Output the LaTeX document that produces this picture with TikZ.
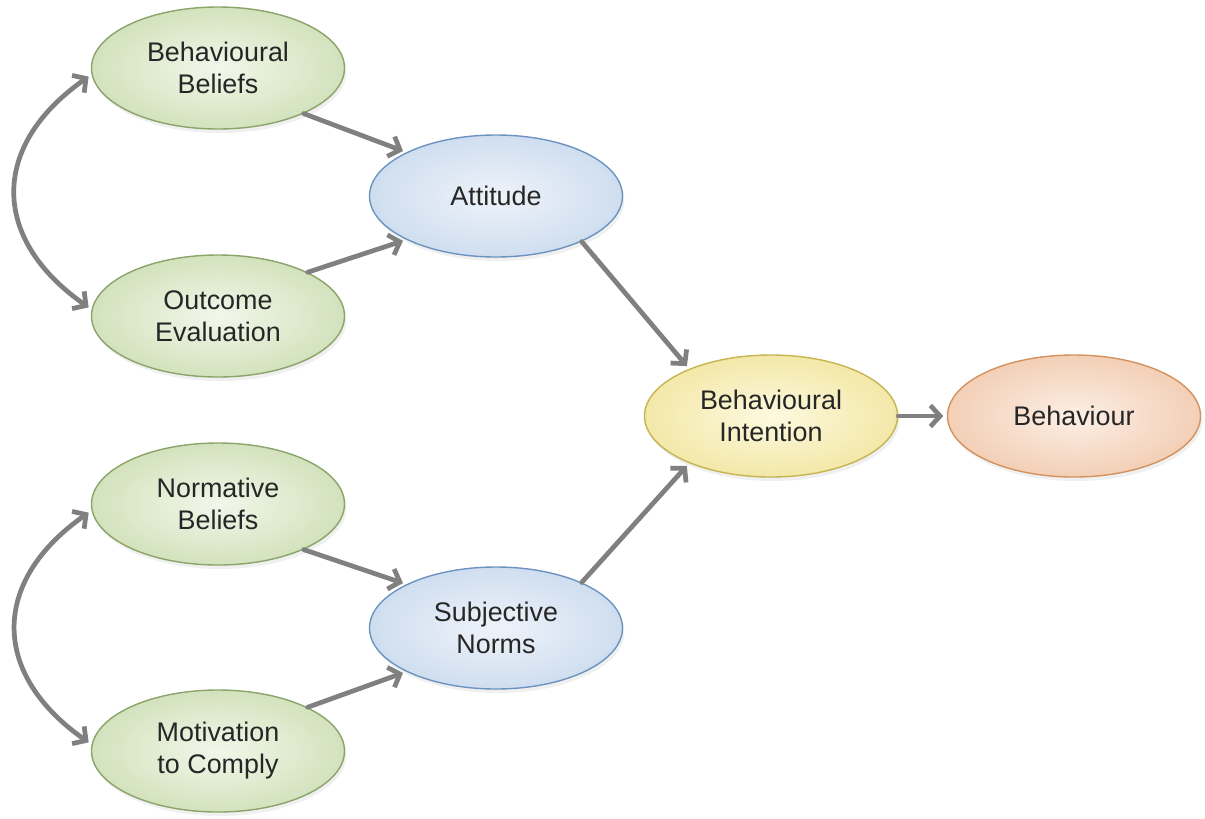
\documentclass[tikz,border=0pt]{standalone}
\usepackage{fontspec}
\setmainfont{Liberation Sans}
\usetikzlibrary{arrows.meta,shapes.geometric,shadows}
\definecolor{greenline}{HTML}{8BA46A}
\definecolor{greenin}{HTML}{F2F7EA}
\definecolor{greenout}{HTML}{D3E2BD}
\definecolor{blueline}{HTML}{6D94C0}
\definecolor{bluein}{HTML}{EEF3FA}
\definecolor{blueout}{HTML}{CFDEEF}
\definecolor{yellowline}{HTML}{C8B450}
\definecolor{yellowin}{HTML}{FDF9E0}
\definecolor{yellowout}{HTML}{F3E8A8}
\definecolor{orangeline}{HTML}{D4925F}
\definecolor{orangein}{HTML}{FCEFE6}
\definecolor{orangeout}{HTML}{F3CFB6}
\definecolor{linkgray}{HTML}{808080}
\begin{document}
\begin{tikzpicture}[line join=round, line cap=round, >={Straight Barb[length=5.5pt,width=12pt]},
		every node/.style={font=\fontsize{15.3}{18.2}\selectfont, align=center, text=black!85},
		oval/.style={ellipse, minimum width=5.06cm, minimum height=2.44cm, inner sep=0pt, line width=0.8pt,
			drop shadow={opacity=0.12, shadow xshift=0.4mm, shadow yshift=-0.8mm}},
		greenoval/.style={oval, draw=greenline, inner color=greenin, outer color=greenout},
		blueoval/.style={oval, draw=blueline, inner color=bluein, outer color=blueout},
		yellowoval/.style={oval, draw=yellowline, inner color=yellowin, outer color=yellowout},
		orangeoval/.style={oval, draw=orangeline, inner color=orangein, outer color=orangeout},
		link/.style={->, draw=linkgray, line width=2.7pt, shorten >=2pt}]
	\useasboundingbox (0,0) rectangle (24.1,-16.36);
	% beliefs on the left
	\foreach \n/\y/\t in {bb/-1.36/{Behavioural\\Beliefs}, oe/-6.32/{Outcome\\Evaluation},
		nb/-10.08/{Normative\\Beliefs}, mc/-15.02/{Motivation\\to Comply}}
	{\node[greenoval] (\n) at (4.36,\y) {\t};}
	\node[blueoval] (att) at (9.92,-3.92) {Attitude};
	\node[blueoval] (sn) at (9.92,-12.56) {Subjective\\Norms};
	\node[yellowoval] (bi) at (15.42,-8.32) {Behavioural\\Intention};
	\node[orangeoval] (beh) at (21.48,-8.32) {Behaviour};
	% connectors
	\draw[link] (bb.-28) -- (att.154);
	\draw[link] (oe.26) -- (att.206);
	\draw[link] (nb.-28) -- (sn.154);
	\draw[link] (mc.26) -- (sn.206);
	\draw[link] (att.-28) -- (bi.150);
	\draw[link] (sn.28) -- (bi.210);
	\draw[link] (bi) -- (beh);
	\draw[link, <->, shorten <=2pt] (bb.183) to[out=215, in=145, looseness=1.35] (oe.177);
	\draw[link, <->, shorten <=2pt] (nb.183) to[out=215, in=145, looseness=1.35] (mc.177);
\end{tikzpicture}
\end{document}
